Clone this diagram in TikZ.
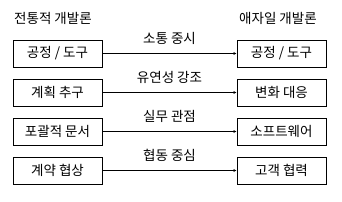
\documentclass[tikz,border=0pt]{standalone}
\usepackage{fontspec}
\setmainfont{Noto Sans CJK KR}
\usetikzlibrary{arrows.meta}

\begin{document}
\begin{tikzpicture}[x=1pt,y=-1pt,
  box/.style={draw,line width=0.8pt,minimum width=89pt,minimum height=27pt,inner sep=0pt,font=\fontsize{13.5}{15}\selectfont},
  head/.style={anchor=west,inner sep=0pt,font=\fontsize{13.5}{15}\selectfont},
  link/.style={line width=0.8pt,-{Latex[length=3pt,width=3pt]}},
  lbl/.style={inner sep=0pt,font=\fontsize{13.5}{15}\selectfont}]
  \useasboundingbox (0,0) rectangle (342,201);
  \node[head] (trad) at (14,18) {전통적 개발론};
  \node[head] (agile) at (239,18) {애자일 개발론};
  % left column
  \node[box] (l1) at (57.5,53.5) {공정 / 도구};
  \node[box] (l2) at (57.5,92.5) {계획 추구};
  \node[box] (l3) at (57.5,131.5) {포괄적 문서};
  \node[box] (l4) at (57.5,170.5) {계약 협상};
  % right column
  \node[box] (r1) at (281.5,53.5) {공정 / 도구};
  \node[box] (r2) at (281.5,92.5) {변화 대응};
  \node[box] (r3) at (281.5,131.5) {소프트웨어};
  \node[box] (r4) at (281.5,170.5) {고객 협력};
  % links
  \draw[link] (l1) -- (r1) node[lbl,midway,above=9pt] {소통 중시};
  \draw[link] (l2) -- (r2) node[lbl,midway,above=9pt] {유연성 강조};
  \draw[link] (l3) -- (r3) node[lbl,midway,above=9pt] {실무 관점};
  \draw[link] (l4) -- (r4) node[lbl,midway,above=9pt] {협동 중심};
\end{tikzpicture}
\end{document}
